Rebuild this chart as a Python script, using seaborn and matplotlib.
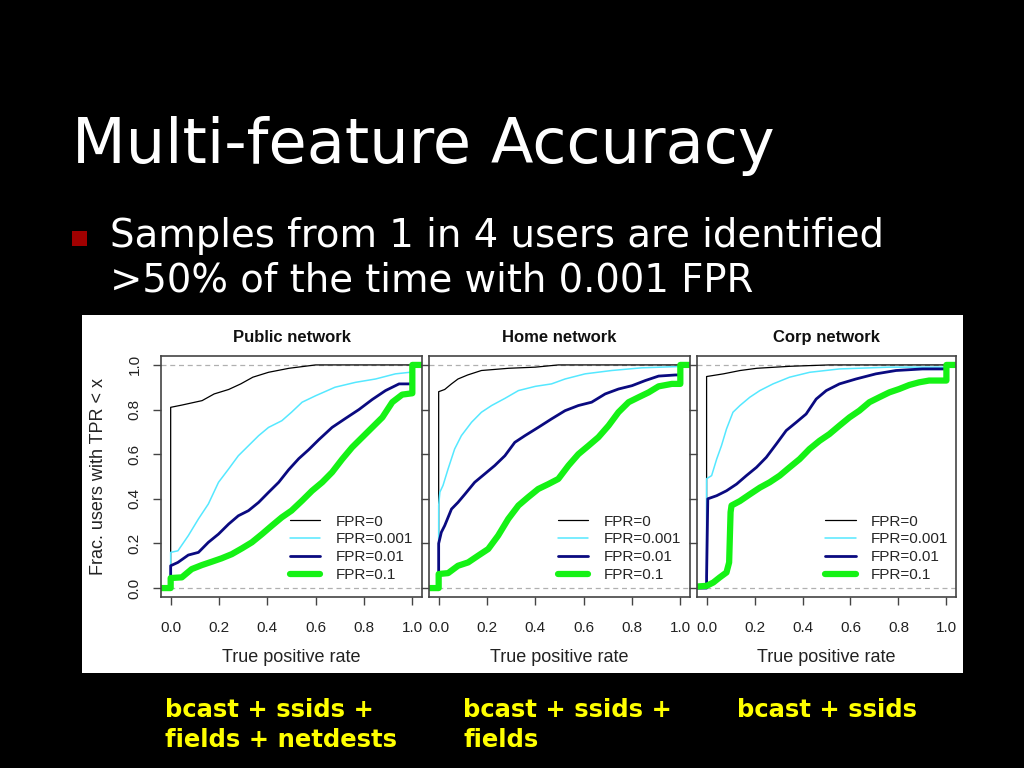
import matplotlib
matplotlib.use('Agg')
import matplotlib.pyplot as plt
import seaborn as sns
from matplotlib.patches import Rectangle

# Valeurs : TPR (x) -> fraction d'utilisateurs (y)
series_labels = ['FPR=0', 'FPR=0.001', 'FPR=0.01', 'FPR=0.1']
panel_titles = ['Public network', 'Home network', 'Corp network']
captions = ['bcast + ssids +\nfields + netdests', 'bcast + ssids +\nfields', 'bcast + ssids']
tick_vals = [0.0, 0.2, 0.4, 0.6, 0.8, 1.0]
tick_labels = ['0.0', '0.2', '0.4', '0.6', '0.8', '1.0']

# Public network
pub0_x = [-0.04, 0, 0, 0.046, 0.13, 0.18, 0.24, 0.29, 0.34, 0.405, 0.49, 0.60, 1.04]
pub0_y = [0, 0, 0.81, 0.82, 0.84, 0.87, 0.89, 0.915, 0.945, 0.967, 0.985, 1.0, 1.0]
pub1_x = [-0.04, 0, 0, 0.03, 0.073, 0.115, 0.156, 0.198, 0.24, 0.28, 0.322, 0.364, 0.405, 0.46,
          0.50, 0.544, 0.60, 0.68, 0.765, 0.848, 0.93, 0.99, 1.0, 1.0, 1.04]
pub1_y = [0, 0, 0.16, 0.167, 0.235, 0.31, 0.377, 0.474, 0.534, 0.593, 0.638, 0.683, 0.72, 0.75,
          0.788, 0.833, 0.862, 0.90, 0.922, 0.937, 0.96, 0.967, 0.967, 1.0, 1.0]
pub2_x = [-0.04, 0, 0, 0.03, 0.073, 0.115, 0.156, 0.198, 0.24, 0.28, 0.322, 0.364, 0.405, 0.447,
          0.488, 0.53, 0.571, 0.613, 0.668, 0.723, 0.779, 0.834, 0.889, 0.945, 1.0, 1.0, 1.04]
pub2_y = [0, 0, 0.10, 0.115, 0.148, 0.16, 0.205, 0.242, 0.287, 0.324, 0.347, 0.384, 0.429, 0.474,
          0.53, 0.58, 0.62, 0.665, 0.72, 0.76, 0.80, 0.845, 0.885, 0.915, 0.915, 1.0, 1.0]
pub3_x = [-0.04, 0, 0, 0.046, 0.087, 0.129, 0.17, 0.21, 0.253, 0.295, 0.336, 0.378, 0.419, 0.46,
          0.50, 0.544, 0.585, 0.627, 0.668, 0.71, 0.751, 0.793, 0.834, 0.876, 0.917, 0.958, 1.0, 1.0, 1.04]
pub3_y = [0, 0, 0.045, 0.048, 0.085, 0.103, 0.118, 0.133, 0.152, 0.178, 0.205, 0.242, 0.28, 0.317,
          0.347, 0.392, 0.436, 0.474, 0.519, 0.578, 0.631, 0.676, 0.72, 0.765, 0.833, 0.867, 0.873, 1.0, 1.0]

# Home network
home0_x = [-0.04, 0, 0, 0.025, 0.053, 0.08, 0.12, 0.177, 0.29, 0.40, 0.495, 1.04]
home0_y = [0, 0, 0.88, 0.89, 0.915, 0.937, 0.955, 0.975, 0.985, 0.99, 1.0, 1.0]
home1_x = [-0.04, 0, 0, 0.005, 0.018, 0.039, 0.066, 0.094, 0.136, 0.177, 0.219, 0.274, 0.33, 0.40,
           0.467, 0.523, 0.606, 0.716, 0.84, 1.0, 1.0, 1.04]
home1_y = [0, 0, 0.37, 0.43, 0.46, 0.534, 0.623, 0.683, 0.743, 0.788, 0.818, 0.85, 0.885, 0.904,
           0.915, 0.937, 0.96, 0.975, 0.987, 0.993, 1.0, 1.0]
home2_x = [-0.04, 0, 0, 0.011, 0.025, 0.053, 0.08, 0.108, 0.149, 0.19, 0.232, 0.274, 0.315, 0.357,
           0.412, 0.467, 0.523, 0.578, 0.633, 0.689, 0.744, 0.80, 0.855, 0.91, 0.98, 1.0, 1.0, 1.04]
home2_y = [0, 0, 0.2, 0.25, 0.28, 0.354, 0.384, 0.42, 0.474, 0.511, 0.549, 0.593, 0.653, 0.683,
           0.72, 0.758, 0.795, 0.818, 0.833, 0.87, 0.892, 0.907, 0.93, 0.95, 0.955, 0.955, 1.0, 1.0]
home3_x = [-0.04, 0, 0, 0.039, 0.08, 0.122, 0.163, 0.205, 0.246, 0.288, 0.33, 0.37, 0.412, 0.454,
           0.495, 0.537, 0.578, 0.62, 0.661, 0.703, 0.744, 0.786, 0.827, 0.869, 0.91, 0.965, 1.0, 1.0, 1.04]
home3_y = [0, 0, 0.063, 0.067, 0.10, 0.115, 0.145, 0.175, 0.235, 0.31, 0.37, 0.407, 0.444, 0.466,
           0.489, 0.549, 0.60, 0.638, 0.676, 0.728, 0.788, 0.833, 0.855, 0.877, 0.904, 0.915, 0.915, 1.0, 1.0]

# Corp network
corp0_x = [-0.04, 0, 0, 0.07, 0.14, 0.21, 0.35, 0.51, 1.04]
corp0_y = [0, 0, 0.948, 0.96, 0.975, 0.985, 0.994, 1.0, 1.0]
corp1_x = [-0.04, 0, 0, 0.021, 0.042, 0.062, 0.083, 0.11, 0.139, 0.18, 0.222, 0.277, 0.346, 0.43,
           0.554, 0.762, 1.0, 1.0, 1.04]
corp1_y = [0, 0, 0.49, 0.504, 0.578, 0.638, 0.713, 0.788, 0.818, 0.855, 0.885, 0.915, 0.945, 0.967,
           0.982, 0.99, 0.99, 1.0, 1.0]
corp2_x = [-0.04, 0, 0, 0.005, 0.042, 0.083, 0.125, 0.166, 0.208, 0.249, 0.291, 0.332, 0.374, 0.415,
           0.457, 0.499, 0.554, 0.623, 0.706, 0.79, 0.90, 1.0, 1.0, 1.04]
corp2_y = [0, 0, 0.05, 0.40, 0.414, 0.436, 0.466, 0.504, 0.541, 0.586, 0.646, 0.706, 0.743, 0.78,
           0.847, 0.885, 0.915, 0.937, 0.96, 0.975, 0.982, 0.982, 1.0, 1.0]
corp3_x = [-0.04, 0, 0.028, 0.055, 0.083, 0.094, 0.1, 0.104, 0.139, 0.18, 0.222, 0.263, 0.305, 0.346,
           0.388, 0.429, 0.471, 0.512, 0.554, 0.596, 0.637, 0.679, 0.72, 0.762, 0.803, 0.845, 0.886,
           0.928, 1.0, 1.0, 1.04]
corp3_y = [0.007, 0.01, 0.025, 0.048, 0.07, 0.115, 0.34, 0.37, 0.39, 0.42, 0.45, 0.474, 0.504, 0.541,
           0.578, 0.623, 0.66, 0.69, 0.728, 0.765, 0.795, 0.833, 0.855, 0.877, 0.892, 0.91, 0.922,
           0.93, 0.93, 1.0, 1.0]

panels = [
    [(pub0_x, pub0_y), (pub1_x, pub1_y), (pub2_x, pub2_y), (pub3_x, pub3_y)],
    [(home0_x, home0_y), (home1_x, home1_y), (home2_x, home2_y), (home3_x, home3_y)],
    [(corp0_x, corp0_y), (corp1_x, corp1_y), (corp2_x, corp2_y), (corp3_x, corp3_y)],
]

line_colors = ['#000000', '#55E8FF', '#0A0A80', '#15F215']
line_widths = [0.9, 1.1, 2.0, 4.5]

sns.set_style('ticks')
plt.rcParams['font.family'] = ['DejaVu Sans']

W, H = 1024, 768
fig = plt.figure(figsize=(W / 100, H / 100), dpi=100, facecolor='black')

# fond blanc de l'image R
fig.patches.append(Rectangle((82 / W, 1 - 673 / H), (963 - 82) / W, (673 - 315) / H,
                             transform=fig.transFigure, facecolor='white', edgecolor='none',
                             zorder=-5))

# titre et puce
fig.text(72 / W, 1 - 163 / H, 'Multi-feature Accuracy', color='white', fontsize=44.8,
         ha='left', va='baseline')
fig.patches.append(Rectangle((72 / W, 1 - 246 / H), 15 / W, 15 / H, transform=fig.transFigure,
                             facecolor='#A00000', edgecolor='none'))
fig.text(110 / W, 1 - 247 / H, 'Samples from 1 in 4 users are identified', color='white',
         fontsize=27.8, ha='left', va='baseline')
fig.text(110 / W, 1 - 292 / H, '>50% of the time with 0.001 FPR', color='white',
         fontsize=27.8, ha='left', va='baseline')

rfont = 'Liberation Sans'
frames = [(161, 422), (429, 690), (697, 956)]
top, bottom = 356, 597
caption_x = [165, 463, 737]

for i, (l, r) in enumerate(frames):
    ax = fig.add_axes([l / W, 1 - bottom / H, (r - l) / W, (bottom - top) / H])
    ax.set_facecolor('white')
    ax.axhline(0, color='#b0b0b0', lw=0.9, dashes=(4, 3), zorder=0)
    ax.axhline(1, color='#b0b0b0', lw=0.9, dashes=(4, 3), zorder=0)
    for k, (xs, ys) in enumerate(panels[i]):
        sns.lineplot(x=xs, y=ys, ax=ax, color=line_colors[k], linewidth=line_widths[k],
                     label=series_labels[k], estimator=None, sort=False)
    ax.set_xlim(-0.04, 1.04)
    ax.set_ylim(-0.04, 1.04)
    ax.set_xticks(tick_vals)
    ax.set_xticklabels(tick_labels, fontfamily=rfont, fontsize=11, color='#222222')
    ax.set_yticks(tick_vals)
    if i == 0:
        ax.set_yticklabels(tick_labels, fontfamily=rfont, fontsize=11, color='#222222',
                           rotation=90, va='center')
        ax.set_ylabel('Frac. users with TPR < x', fontfamily=rfont, fontsize=13, color='#222222')
        ax.yaxis.set_label_coords(-0.208, 0.5)
    else:
        ax.set_yticklabels([])
        ax.set_ylabel('')
    ax.tick_params(axis='x', length=6, width=1, color='#444444', pad=11)
    ax.tick_params(axis='y', length=6, width=1, color='#444444', pad=8)
    ax.set_xlabel('True positive rate', fontfamily=rfont, fontsize=13, color='#222222')
    ax.xaxis.set_label_coords(0.5, -(658 - bottom) / (bottom - top))
    ax.xaxis.label.set_va('center')
    for sp in ax.spines.values():
        sp.set_color('#444444')
        sp.set_linewidth(1.2)
        sp.set_visible(True)
    ax.text(0.5, 1 + (top - 337) / (bottom - top), panel_titles[i], transform=ax.transAxes,
            ha='center', va='center', fontfamily=rfont, fontweight='bold', fontsize=12, color='#111111')
    ax.legend(loc='lower left', bbox_to_anchor=(0.494, 0.062), frameon=False,
              prop={'family': rfont, 'size': 11}, handlelength=2.0, handletextpad=1.0,
              labelspacing=0.25, borderpad=0, borderaxespad=0)

    # légendes jaunes sous chaque panneau
    for j, line in enumerate(captions[i].split('\n')):
        fig.text(caption_x[i] / W, 1 - (717 + 30 * j) / H, line, color='#FFFF00', fontsize=17.5,
                 fontweight='bold', ha='left', va='baseline')

fig.savefig('out.png', dpi=100, facecolor='black')
